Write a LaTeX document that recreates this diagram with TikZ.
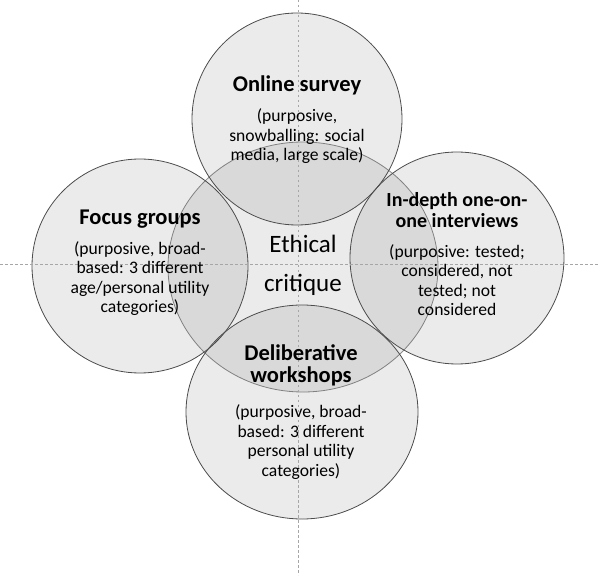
\documentclass[tikz,border=0pt]{standalone}
\usepackage{fontspec}
\setmainfont{Carlito}
\begin{document}
\begin{tikzpicture}[x=1pt,y=-1pt]

  \tikzstyle{method} = [fill=black, fill opacity=0.08, draw=black!70, line width=0.8]
  \tikzstyle{critique} = [fill=black, fill opacity=0.08, draw=black!45, line width=0.8]
  \tikzstyle{axis} = [black!35, dash pattern=on 2.5pt off 2.5pt, line width=0.7]
  \tikzstyle{title} = [font=\fontsize{22.5}{22}\selectfont\bfseries, align=center, inner sep=0, anchor=base]
  \tikzstyle{detail} = [font=\fontsize{17.6}{19.5}\selectfont, align=center, inner sep=0, anchor=base]

  \useasboundingbox (0,0) rectangle (600,577);

  % circles
  \draw[critique] (303,267) ellipse (135 and 125);
  \draw[method] (297,119) ellipse (105 and 106);
  \draw[method] (140,266) ellipse (108 and 107);
  \draw[method] (457,258) ellipse (107 and 106);
  \draw[method] (302,412) ellipse (116 and 107);

  % guide lines
  \draw[axis] (298,0) -- (298,575);
  \draw[axis] (0,264) -- (600,264);

  % texts (anchored at the baseline of the last line)
  \node[title] (survey) at (297,92) {Online survey};
  \node[detail] (surveyinfo) at (297,161) {(purposive,\\snowballing: social\\media, large scale)};

  \node[title] (focus) at (140,225) {Focus groups};
  \node[detail] (focusinfo) at (140,313) {(purposive, broad-\\based: 3 different\\age/personal utility\\categories)};

  \node[title, font=\fontsize{20}{21.5}\selectfont\bfseries] (interview) at (457,228) {In-depth one-on-\\one interviews};
  \node[detail] (interviewinfo) at (457,316) {(purposive: tested;\\considered, not\\tested; not\\considered};

  \node[title] (workshop) at (301,383) {Deliberative\\workshops};
  \node[detail] (workshopinfo) at (301,476) {(purposive, broad-\\based: 3 different\\personal utility\\categories)};

  \node[font=\fontsize{25}{39}\selectfont, align=center, inner sep=0, anchor=base] (ethics) at (303,292) {Ethical\\critique};

\end{tikzpicture}
\end{document}
